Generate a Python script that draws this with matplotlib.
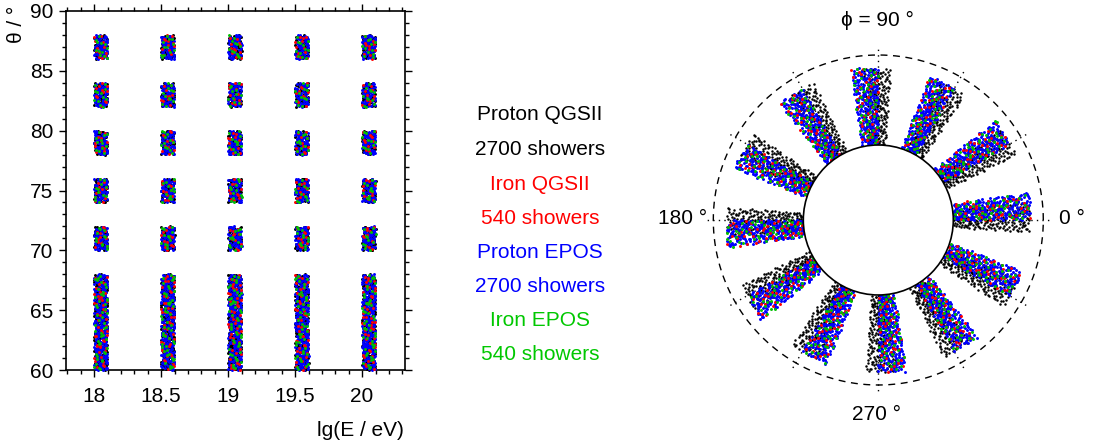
import numpy as np
import matplotlib
matplotlib.use("Agg")
import matplotlib.pyplot as plt
from matplotlib.patches import Circle

plt.rcParams['font.family'] = ['Liberation Sans', 'DejaVu Sans']

# ---- data ----
energies = [18.0, 18.5, 19.0, 19.5, 20.0]          # lg(E/eV) bin starts (width 0.1)
energy_width = 0.1
zenith_bins = [60, 62, 64, 66, 70, 74, 78, 82, 86]  # theta bin starts (width 2 deg)
zenith_width = 2.0
azimuths = [0, 30, 60, 90, 120, 150, 180, 210, 240, 270, 300, 330]
series_names = ["Proton QGSII", "Iron QGSII", "Proton EPOS", "Iron EPOS"]
series_counts = [2700, 540, 2700, 540]
showers_per_cell = [5, 1, 5, 1]
series_colors = ["#000000", "#ff0000", "#0000ff", "#00c000"]
text_colors = ["#000000", "#ff0000", "#0000ff", "#00c800"]
draw_layer = [0, 2, 1, 3]   # drawing order: black, blue, red, green

# polar geometry (in units of the dashed circle radius)
r_inner = 0.4545
r_spoke_out = 0.92
w_inner, w_outer = 0.10, 0.17


def radical_inverse(k, base):
    """Van der Corput radical inverse (low-discrepancy filling of a cell)."""
    k = np.asarray(k, dtype=np.int64).copy()
    out = np.zeros(k.shape, dtype=float)
    f = 1.0 / base
    while np.any(k > 0):
        out += f * (k % base)
        k //= base
        f /= base
    return out


def halton(n, start, bases, shift):
    k = np.arange(start, start + n)
    return [(radical_inverse(k, b) + s) % 1.0 for b, s in zip(bases, shift)]


W, H = 1095, 445
FS = 15.0
fig = plt.figure(figsize=(W / 100, H / 100), dpi=100)

axL = fig.add_axes([66 / W, 1 - 370 / H, 339 / W, 359 / H])
cx, cy, R = 878.3, 220.0, 165.0
half = 1.2 * R
axR = fig.add_axes([(cx - half) / W, 1 - (cy + half) / H, 2 * half / W, 2 * half / H])
axR.set_xlim(-1.2, 1.2)
axR.set_ylim(-1.2, 1.2)
axR.axis('off')

series_start = [3, 211, 97, 419]
series_shift = [(0.0, 0.0), (0.37, 0.61), (0.71, 0.29), (0.19, 0.83)]
series_bases = [(2, 3), (3, 5), (2, 5), (5, 3)]
for si in range(4):
    n_cell = showers_per_cell[si]
    n_block = n_cell * len(azimuths)
    xs, ys = [], []
    ci = 0
    for e in energies:
        for t in zenith_bins:
            u1, u2 = halton(n_block, series_start[si] + 37 * ci, series_bases[si],
                            series_shift[si])
            xs.append(e + energy_width * u1)
            ys.append(t + zenith_width * u2)
            ci += 1
    axL.scatter(np.concatenate(xs), np.concatenate(ys), s=4.5, c=series_colors[si],
                marker='o', linewidths=0, zorder=2 + draw_layer[si], clip_on=False)

    n_spoke = n_cell * len(energies) * len(zenith_bins)
    px, py = [], []
    for ai, p in enumerate(azimuths):
        u3, u4 = halton(n_spoke, series_start[si] + 53 * ai + 7, series_bases[si],
                        series_shift[si])
        r = r_inner + (r_spoke_out - r_inner) * u3
        w = w_inner + (w_outer - w_inner) * (r - r_inner) / (r_spoke_out - r_inner)
        if si == 0:
            v = w * (-0.45 + 1.1 * u4)
        else:
            v = w * u4
        ph = np.deg2rad(p)
        px.append(r * np.cos(ph) - v * np.sin(ph))
        py.append(r * np.sin(ph) + v * np.cos(ph))
    axR.scatter(np.concatenate(px), np.concatenate(py), s=3.2 if si == 0 else 4.5,
                c=series_colors[si], marker='o', linewidths=0, zorder=3 + draw_layer[si])

axL.set_xlim(17.79, 20.32)
axL.set_ylim(60, 90)
axL.set_xticks([18, 18.5, 19, 19.5, 20])
axL.set_xticklabels(["18", "18.5", "19", "19.5", "20"])
axL.set_yticks([60, 65, 70, 75, 80, 85, 90])
axL.set_xticks(np.arange(17.8, 20.31, 0.1), minor=True)
axL.set_yticks(np.arange(60, 91, 1), minor=True)
axL.tick_params(which='both', direction='out', top=True, right=True,
                labelsize=FS, width=1.0)
axL.tick_params(which='major', length=5)
axL.tick_params(which='minor', length=3)
axL.tick_params(axis='x', pad=7)
axL.tick_params(axis='y', pad=4)
for sp in axL.spines.values():
    sp.set_linewidth(1.2)

fig.text(17 / W, 1 - 6 / H, "θ / °", rotation=90, ha='center', va='top', fontsize=FS)
fig.text(404 / W, 1 - 431 / H, "lg(E / eV)", ha='right', va='center', fontsize=FS)

ys_txt = [115, 150, 184, 218, 252, 287, 320, 354]
labels = []
for nm, cnt in zip(series_names, series_counts):
    labels += [nm, f"{cnt} showers"]
for i, (lab, yy) in enumerate(zip(labels, ys_txt)):
    fig.text(540 / W, 1 - yy / H, lab, ha='center', va='center', fontsize=FS,
             color=text_colors[i // 2])

for p in azimuths:
    ph = np.deg2rad(p)
    axR.plot([r_inner * np.cos(ph), 1.05 * np.cos(ph)],
             [r_inner * np.sin(ph), 1.05 * np.sin(ph)],
             color='k', lw=1.0, ls=(0, (1, 3)), zorder=1)
tt = np.linspace(0, 2 * np.pi, 721)
axR.plot(np.cos(tt), np.sin(tt), color='k', lw=1.0, ls=(0, (5, 4)), zorder=1)
axR.add_patch(Circle((0, 0), r_inner, facecolor='white', edgecolor='k', lw=1.2, zorder=10))

fig.text(877 / W, 1 - 20 / H, "ϕ = 90 °", ha='center', va='center', fontsize=FS)
fig.text(1072 / W, 1 - 218 / H, "0 °", ha='center', va='center', fontsize=FS)
fig.text(683 / W, 1 - 218 / H, "180 °", ha='center', va='center', fontsize=FS)
fig.text(877 / W, 1 - 414 / H, "270 °", ha='center', va='center', fontsize=FS)

fig.savefig("out.png", dpi=100)
